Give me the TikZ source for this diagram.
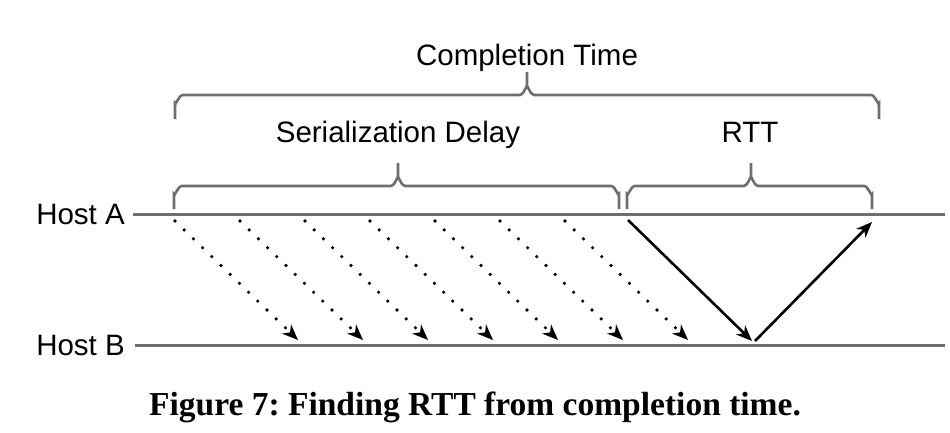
\documentclass[tikz,border=0pt]{standalone}
\usepackage{fontspec}
\setmainfont{Liberation Sans}
\newfontfamily\capfont{Liberation Serif}
\usetikzlibrary{arrows.meta}
\definecolor{linegray}{HTML}{6E6E6E}
\frenchspacing
\begin{document}
\begin{tikzpicture}[x=1pt,y=-1pt,
  lbl/.style={inner sep=0pt, anchor=base, font=\fontsize{29.5}{34}\selectfont},
  hostlbl/.style={inner sep=0pt, anchor=east, font=\fontsize{29.5}{34}\selectfont},
  hostline/.style={draw=linegray, line width=3pt},
  bracepath/.style={draw=linegray, line width=2.6pt},
  msg/.style={line width=2.6pt, -{Stealth[length=16pt,width=13pt,inset=5pt,line width=0pt]}},
  dotmsg/.style={line width=3.6pt, line cap=round, dash pattern=on 0pt off 12.8pt,
    -{Stealth[length=16pt,width=13pt,inset=5pt,line width=0pt]}}]
\useasboundingbox (0,0) rectangle (950,432);

% labels
\node[lbl] (ct) at (527,65) {Completion Time};
\node[lbl] (sd) at (398,142) {Serialization Delay};
\node[lbl] (rtt) at (750,142) {RTT};
\node[hostlbl] (ha) at (125,214) {Host A};
\node[hostlbl] (hb) at (125,345) {Host B};
\node[inner sep=0pt, anchor=base, font=\capfont\bfseries\fontsize{33.5}{38}\selectfont] (cap) at (475,415) {Figure 7: Finding RTT from completion time.};

% host lines
\coordinate (haL) at (133,214);
\coordinate (haR) at (945,214);
\coordinate (hbL) at (135,345);
\coordinate (hbR) at (945,345);
\draw[hostline] (haL) -- (haR);
\draw[hostline] (hbL) -- (hbR);

% braces
\newcommand{\mybrace}[5]{% xleft xright xtip ybottom yh
  \draw[bracepath] (#1,#4) -- (#1,#5+8) to[out=-90,in=180] (#1+8,#5) -- (#3-7,#5)
    to[out=0,in=90] (#3,#5-8) -- (#3,#5-23) -- (#3,#5-8) to[out=90,in=180] (#3+7,#5)
    -- (#2-8,#5) to[out=0,in=-90] (#2,#5+8) -- (#2,#4);}
\mybrace{175}{879}{527}{119}{95}
\mybrace{174}{619}{398}{209}{186}
\mybrace{627}{872}{751}{209}{186}

% serialization packets
\foreach \i in {0,...,6}{
  \coordinate (s\i) at (175+65*\i,221);
  \coordinate (e\i) at (298+65*\i,340);
  \draw[dotmsg] (s\i) -- (e\i);
}

% RTT round trip
\coordinate (r0) at (628,220);
\coordinate (r1) at (752,341);
\coordinate (r2) at (755,341);
\coordinate (r3) at (872,222);
\draw[msg] (r0) -- (r1);
\draw[msg] (r2) -- (r3);
\end{tikzpicture}
\end{document}
